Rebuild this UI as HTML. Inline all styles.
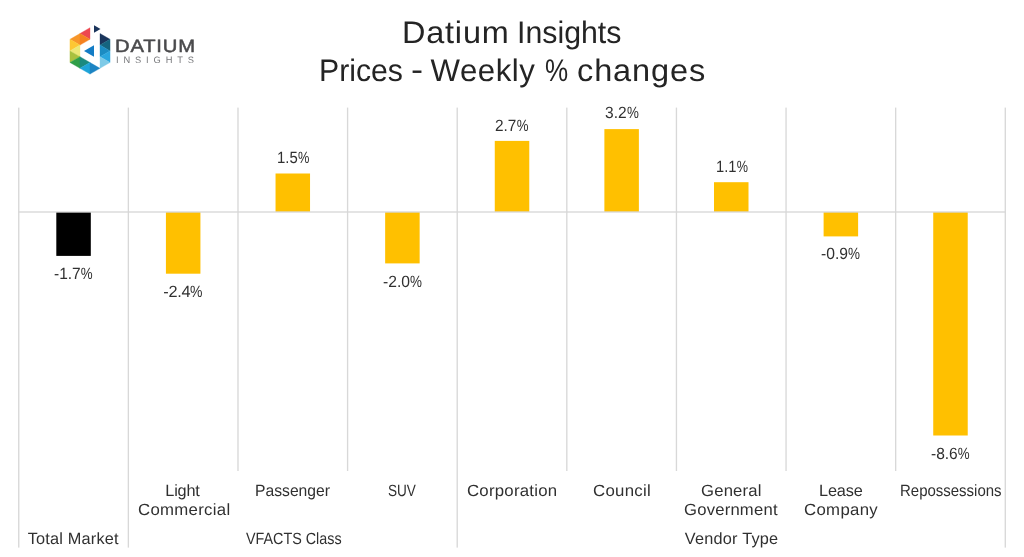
<!DOCTYPE html>
<html lang="en">
<head>
<meta charset="utf-8">
<title>Datium Insights - Prices - Weekly % changes</title>
<style>
html,body{margin:0;padding:0;background:#fff;}
body{width:1024px;height:557px;position:relative;overflow:hidden;font-family:"Liberation Sans",sans-serif;}
#stage{position:absolute;left:0;top:0;width:1024px;height:557px;will-change:transform;}
.t{position:absolute;white-space:nowrap;transform-origin:0 0;text-rendering:geometricPrecision;}
.p{display:inline-block;width:0.79em;letter-spacing:0}
.p span{display:inline-block;transform:scaleX(.86);transform-origin:0 0}
</style>
</head>
<body>
<div id="stage">
<svg width="1024" height="557" viewBox="0 0 1024 557" style="position:absolute;left:0;top:0">
<rect x="18.08" y="107.6" width="1.34" height="440.00" fill="#d8d8d8"/>
<rect x="127.70" y="107.6" width="1.34" height="440.00" fill="#d8d8d8"/>
<rect x="237.31" y="107.6" width="1.34" height="363.40" fill="#d8d8d8"/>
<rect x="346.92" y="107.6" width="1.34" height="363.40" fill="#d8d8d8"/>
<rect x="456.54" y="107.6" width="1.34" height="440.00" fill="#d8d8d8"/>
<rect x="566.15" y="107.6" width="1.34" height="363.40" fill="#d8d8d8"/>
<rect x="675.77" y="107.6" width="1.34" height="363.40" fill="#d8d8d8"/>
<rect x="785.38" y="107.6" width="1.34" height="363.40" fill="#d8d8d8"/>
<rect x="895.00" y="107.6" width="1.34" height="363.40" fill="#d8d8d8"/>
<rect x="1004.62" y="107.6" width="1.34" height="440.00" fill="#d8d8d8"/>
<rect x="56.31" y="212.0" width="34.50" height="43.90" fill="#000000"/>
<rect x="165.92" y="212.0" width="34.50" height="61.70" fill="#ffc000"/>
<rect x="275.54" y="173.5" width="34.50" height="38.50" fill="#ffc000"/>
<rect x="385.15" y="212.0" width="34.50" height="51.40" fill="#ffc000"/>
<rect x="494.77" y="140.9" width="34.50" height="71.10" fill="#ffc000"/>
<rect x="604.38" y="129.1" width="34.50" height="82.90" fill="#ffc000"/>
<rect x="714.0" y="182.2" width="34.50" height="29.80" fill="#ffc000"/>
<rect x="823.61" y="212.0" width="34.50" height="24.40" fill="#ffc000"/>
<rect x="933.23" y="212.0" width="34.50" height="223.50" fill="#ffc000"/>
<rect x="18.08" y="211.33" width="987.88" height="1.34" fill="#d8d8d8"/>
<polygon points="79.98,33.50 79.98,45.10 69.96,39.30" fill="#f7962a" stroke="#f7962a" stroke-width="0.35" stroke-linejoin="round"/>
<polygon points="69.96,39.30 69.96,50.90 79.98,45.10" fill="#fdc733" stroke="#fdc733" stroke-width="0.35" stroke-linejoin="round"/>
<polygon points="79.98,45.10 79.98,56.70 69.96,50.90" fill="#ece877" stroke="#ece877" stroke-width="0.35" stroke-linejoin="round"/>
<polygon points="69.96,50.90 69.96,62.50 79.98,56.70" fill="#a9c13e" stroke="#a9c13e" stroke-width="0.35" stroke-linejoin="round"/>
<polygon points="79.98,56.70 79.98,68.30 69.96,62.50" fill="#2f9e47" stroke="#2f9e47" stroke-width="0.35" stroke-linejoin="round"/>
<polygon points="90.00,27.70 90.00,39.30 79.98,33.50" fill="#ed4750" stroke="#ed4750" stroke-width="0.35" stroke-linejoin="round"/>
<polygon points="79.98,33.50 79.98,45.10 90.00,39.30" fill="#f58220" stroke="#f58220" stroke-width="0.35" stroke-linejoin="round"/>
<polygon points="79.98,56.70 79.98,68.30 90.00,62.50" fill="#1b8a7f" stroke="#1b8a7f" stroke-width="0.35" stroke-linejoin="round"/>
<polygon points="90.00,62.50 90.00,74.10 79.98,68.30" fill="#1ea4d8" stroke="#1ea4d8" stroke-width="0.35" stroke-linejoin="round"/>
<polygon points="90.00,62.50 90.00,74.10 100.02,68.30" fill="#1c84c3" stroke="#1c84c3" stroke-width="0.35" stroke-linejoin="round"/>
<polygon points="100.02,33.50 100.02,45.10 110.04,39.30" fill="#1b355c" stroke="#1b355c" stroke-width="0.35" stroke-linejoin="round"/>
<polygon points="110.04,39.30 110.04,50.90 100.02,45.10" fill="#15647f" stroke="#15647f" stroke-width="0.35" stroke-linejoin="round"/>
<polygon points="100.02,45.10 100.02,56.70 110.04,50.90" fill="#1b8cc3" stroke="#1b8cc3" stroke-width="0.35" stroke-linejoin="round"/>
<polygon points="110.04,50.90 110.04,62.50 100.02,56.70" fill="#2aa6de" stroke="#2aa6de" stroke-width="0.35" stroke-linejoin="round"/>
<polygon points="100.02,56.70 100.02,68.30 110.04,62.50" fill="#7ecae7" stroke="#7ecae7" stroke-width="0.35" stroke-linejoin="round"/>
<polygon points="84.0,50.9 94.0,45.2 94.0,56.7" fill="#127cc5"/>
<polygon points="94.0,25.3 100.5,29.05 94.0,32.8" fill="#1b355c"/>
</svg>
<span class="t" style="left:402.0px;top:14px;font-size:31.2px;line-height:38px;color:#242424;transform:scaleX(1.0393);letter-spacing:0.779px;">Datium</span>
<span class="t" style="left:517.0px;top:14px;font-size:31.2px;line-height:38px;color:#242424;transform:scaleX(0.971);">Insights</span>
<span class="t" style="left:319.0px;top:52px;font-size:31.2px;line-height:38px;color:#242424;transform:scaleX(0.9687);">Prices</span>
<span class="t" style="left:410.5px;top:51px;font-size:31.2px;line-height:38px;color:#242424;transform:scaleX(1.1613);">-</span>
<span class="t" style="left:430.5px;top:52px;font-size:31.2px;line-height:38px;color:#242424;letter-spacing:0.53px;">Weekly</span>
<span class="t" style="left:544.5px;top:52px;font-size:31.2px;line-height:38px;color:#242424;transform:scaleX(0.835);">%</span>
<span class="t" style="left:576.5px;top:52px;font-size:31.2px;line-height:38px;color:#242424;transform:scaleX(1.0432);letter-spacing:0.831px;">changes</span>
<span class="t" style="left:115.0px;top:35px;font-size:17.9px;line-height:22px;color:#4a4a4c;transform:scaleX(1.13);letter-spacing:0.708px;-webkit-text-stroke:0.5px #4a4a4c;">DATIUM</span>
<span class="t" style="left:116.0px;top:54px;font-size:9.3px;line-height:12px;color:#77787b;letter-spacing:4.864px;">INSIGHTS</span>
<span class="t" style="left:54.0px;top:264px;font-size:16.3px;line-height:20px;color:#303030;transform:scaleX(0.9529);">-1.7<span class="p"><span>%</span></span></span>
<span class="t" style="left:163.25px;top:282px;font-size:16.3px;line-height:20px;color:#303030;letter-spacing:-0.263px;">-2.4<span class="p"><span>%</span></span></span>
<span class="t" style="left:277.0px;top:148px;font-size:16.3px;line-height:20px;color:#303030;transform:scaleX(0.9156);">1.5<span class="p"><span>%</span></span></span>
<span class="t" style="left:382.75px;top:272px;font-size:16.3px;line-height:20px;color:#303030;transform:scaleX(0.9605);">-2.0<span class="p"><span>%</span></span></span>
<span class="t" style="left:495.0px;top:116px;font-size:16.3px;line-height:20px;color:#303030;transform:scaleX(0.946);">2.7<span class="p"><span>%</span></span></span>
<span class="t" style="left:604.5px;top:103px;font-size:16.3px;line-height:20px;color:#303030;transform:scaleX(0.9533);">3.2<span class="p"><span>%</span></span></span>
<span class="t" style="left:715.75px;top:157px;font-size:16.3px;line-height:20px;color:#303030;transform:scaleX(0.9037);">1.1<span class="p"><span>%</span></span></span>
<span class="t" style="left:821.25px;top:244px;font-size:16.3px;line-height:20px;color:#303030;transform:scaleX(0.9631);">-0.9<span class="p"><span>%</span></span></span>
<span class="t" style="left:931.0px;top:444px;font-size:16.3px;line-height:20px;color:#303030;transform:scaleX(0.9529);">-8.6<span class="p"><span>%</span></span></span>
<span class="t" style="left:165.25px;top:481px;font-size:16.3px;line-height:20px;color:#303030;letter-spacing:-0.175px;">Light</span>
<span class="t" style="left:137.5px;top:500px;font-size:16.3px;line-height:20px;color:#303030;transform:scaleX(1.0301);letter-spacing:0.291px;">Commercial</span>
<span class="t" style="left:255.0px;top:481px;font-size:16.3px;line-height:20px;color:#303030;transform:scaleX(0.9639);">Passenger</span>
<span class="t" style="left:388.0px;top:481px;font-size:16.3px;line-height:20px;color:#303030;transform:scaleX(0.8338);">SUV</span>
<span class="t" style="left:467.25px;top:481px;font-size:16.3px;line-height:20px;color:#303030;transform:scaleX(1.0299);letter-spacing:0.248px;">Corporation</span>
<span class="t" style="left:593.25px;top:481px;font-size:16.3px;line-height:20px;color:#303030;transform:scaleX(1.0319);letter-spacing:0.266px;">Council</span>
<span class="t" style="left:701.0px;top:481px;font-size:16.3px;line-height:20px;color:#303030;transform:scaleX(1.0238);letter-spacing:0.195px;">General</span>
<span class="t" style="left:684.0px;top:500px;font-size:16.3px;line-height:20px;color:#303030;transform:scaleX(1.022);letter-spacing:0.212px;">Government</span>
<span class="t" style="left:819.0px;top:481px;font-size:16.3px;line-height:20px;color:#303030;letter-spacing:-0.15px;">Lease</span>
<span class="t" style="left:803.75px;top:500px;font-size:16.3px;line-height:20px;color:#303030;transform:scaleX(1.029);letter-spacing:0.332px;">Company</span>
<span class="t" style="left:899.5px;top:481px;font-size:16.3px;line-height:20px;color:#303030;transform:scaleX(0.9198);">Repossessions</span>
<span class="t" style="left:27.75px;top:529px;font-size:16.3px;line-height:20px;color:#303030;letter-spacing:0.195px;">Total Market</span>
<span class="t" style="left:245.5px;top:529px;font-size:16.3px;line-height:20px;color:#303030;transform:scaleX(0.8807);">VFACTS Class</span>
<span class="t" style="left:684.75px;top:529px;font-size:16.3px;line-height:20px;color:#303030;letter-spacing:0.225px;">Vendor Type</span>
</div>
</body>
</html>
